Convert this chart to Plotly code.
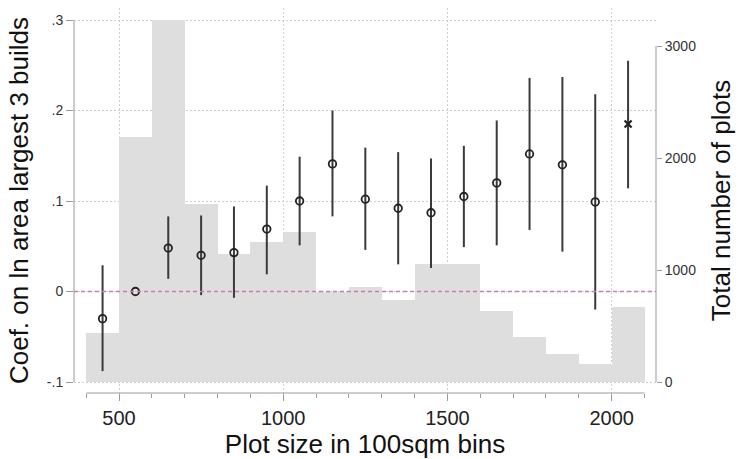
import plotly.graph_objects as go

# ---- data ----
bin_centers = [450, 550, 650, 750, 850, 950, 1050, 1150, 1250, 1350, 1450,
               1550, 1650, 1750, 1850, 1950, 2050]
plot_counts = [440, 2190, 3230, 1589, 1143, 1247, 1339, 806, 846, 732, 1054,
               1054, 634, 405, 247, 158, 667]
coef = [-0.030, 0.000, 0.048, 0.040, 0.043, 0.069, 0.100, 0.141, 0.102, 0.092,
        0.087, 0.105, 0.120, 0.152, 0.140, 0.099, 0.185]
ci_hi = [0.029, 0.000, 0.083, 0.084, 0.094, 0.117, 0.149, 0.200, 0.159, 0.154,
         0.147, 0.161, 0.189, 0.236, 0.237, 0.218, 0.255]
ci_lo = [-0.088, 0.000, 0.014, -0.004, -0.007, 0.019, 0.051, 0.083, 0.046, 0.030,
         0.026, 0.049, 0.051, 0.068, 0.044, -0.020, 0.114]
left_ticks = [-0.1, 0, 0.1, 0.2, 0.3]
left_ticktext = ["-.1", "0", ".1", ".2", ".3"]
right_ticks = [0, 1000, 2000, 3000]
x_ticks = [500, 1000, 1500, 2000]

FONT = "Liberation Sans, Arial, sans-serif"
AXIS_GRAY = "#9a9a9a"
GRID = "#cfcfcf"
GRID_DASH = "1.5px,2.5px"

err_up = [h - c for h, c in zip(ci_hi, coef)]
err_dn = [c - l for c, l in zip(coef, ci_lo)]

fig = go.Figure()
fig.add_trace(go.Bar(
    x=bin_centers, y=plot_counts, width=100, yaxis="y",
    marker=dict(color="#dedede", line=dict(width=0)), showlegend=False,
    hoverinfo="skip"))
fig.add_trace(go.Scatter(
    x=bin_centers[:-1], y=coef[:-1], yaxis="y2", mode="markers",
    marker=dict(symbol="circle-open", size=7.5, color="#222222",
                line=dict(width=1.8, color="#222222")),
    error_y=dict(type="data", symmetric=False, array=err_up[:-1],
                 arrayminus=err_dn[:-1], width=0, thickness=2,
                 color="#3a3a3a"),
    showlegend=False))
fig.add_trace(go.Scatter(
    x=bin_centers[-1:], y=coef[-1:], yaxis="y2", mode="markers",
    marker=dict(symbol="x-thin", size=7, color="#222222",
                line=dict(width=2.2, color="#222222")),
    error_y=dict(type="data", symmetric=False, array=err_up[-1:],
                 arrayminus=err_dn[-1:], width=0, thickness=2,
                 color="#3a3a3a"),
    showlegend=False))

shapes = [
    # left axis line
    dict(type="line", xref="paper", yref="y2", x0=0, x1=0,
         y0=left_ticks[0], y1=left_ticks[-1],
         line=dict(color=AXIS_GRAY, width=1)),
    # right axis line
    dict(type="line", xref="paper", yref="y", x0=1, x1=1,
         y0=right_ticks[0], y1=right_ticks[-1],
         line=dict(color=AXIS_GRAY, width=1)),
    # bottom axis line
    dict(type="line", xref="x", yref="paper", x0=bin_centers[0] - 50,
         x1=bin_centers[-1] + 50, y0=0, y1=0,
         line=dict(color=AXIS_GRAY, width=1)),
    # zero reference line
    dict(type="line", xref="paper", yref="y2", x0=0, x1=1, y0=0, y1=0,
         line=dict(color="#d27aae", width=1.4, dash="4px,3px"),
         layer="above"),
]

fig.update_layout(
    width=740, height=459,
    margin=dict(l=74, r=84, t=8, b=66),
    paper_bgcolor="white", plot_bgcolor="white",
    font=dict(family=FONT, color="#222222"),
    bargap=0,
    shapes=shapes,
    xaxis=dict(
        range=[363, 2135], tickvals=x_ticks, ticks="outside", ticklen=7,
        tickcolor=AXIS_GRAY, tickwidth=1,
        tickfont=dict(size=20, color="#222222"),
        showgrid=True, gridcolor=GRID, griddash=GRID_DASH, gridwidth=1,
        zeroline=False, showline=False,
        minor=dict(dtick=100, tick0=0, ticks="outside", ticklen=4,
                   tickcolor=AXIS_GRAY, showgrid=False),
        title=dict(text="Plot size in 100sqm bins",
                   font=dict(size=26, color="#111111"), standoff=2),
    ),
    yaxis=dict(
        side="right", range=[-98.2, 3339.3], tickvals=right_ticks,
        ticks="outside", ticklen=5, tickcolor=AXIS_GRAY,
        tickfont=dict(size=14, color="#333333"),
        showgrid=False, zeroline=False, showline=False,
        title=dict(text="Total number of plots",
                   font=dict(size=26, color="#111111"), standoff=16),
    ),
    yaxis2=dict(
        overlaying="y", side="left", range=[-0.11215, 0.31326],
        tickvals=left_ticks, ticktext=left_ticktext,
        ticks="outside", ticklen=7, tickcolor=AXIS_GRAY,
        tickfont=dict(size=14, color="#333333"),
        showgrid=True, gridcolor=GRID, griddash=GRID_DASH, gridwidth=1,
        zeroline=False, showline=False,
        title=dict(text="Coef. on ln area largest 3 builds",
                   font=dict(size=26, color="#111111"), standoff=10),
    ),
)

fig.write_html("out.html")
